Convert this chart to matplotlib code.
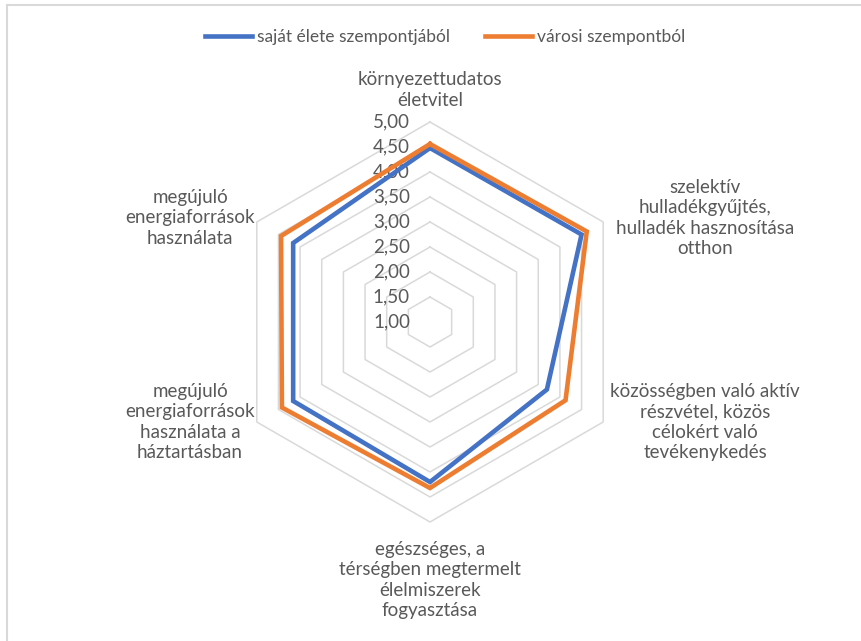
import numpy as np
import matplotlib
matplotlib.use("Agg")
import matplotlib.pyplot as plt
from matplotlib.lines import Line2D

plt.rcParams['font.family'] = ['Lato', 'DejaVu Sans']

categories = [
    "környezettudatos\néletvitel",
    "szelektív\nhulladékgyűjtés,\nhulladék hasznosítása\notthon",
    "közösségben való aktív\nrészvétel, közös\ncélokért való\ntevékenykedés",
    "egészséges, a\ntérségben megtermelt\nélelmiszerek\nfogyasztása",
    "megújuló\nenergiaforrások\nhasználata a\nháztartásban",
    "megújuló\nenergiaforrások\nhasználata",
]
series_names = ["saját élete szempontjából", "városi szempontból"]
own_values = [4.48, 4.50, 3.70, 4.20, 4.16, 4.16]
city_values = [4.56, 4.62, 4.13, 4.32, 4.42, 4.44]
ring_values = [1.5, 2.0, 2.5, 3.0, 3.5, 4.0, 4.5, 5.0]
tick_labels = ["1,00", "1,50", "2,00", "2,50", "3,00", "3,50", "4,00", "4,50", "5,00"]
r_min = 1.0

colors = ["#4472C4", "#ED7D31"]
grid_color = "#D9D9D9"
text_color = "#595959"
fs = 13.5
fs_leg = 12.5

W, H = 861, 641
fig = plt.figure(figsize=(W / 100, H / 100), dpi=100)
cx, cy, half = 430, 322, 250
ax = fig.add_axes([(cx - half) / W, (H - cy - half) / H, 2 * half / W, 2 * half / H])
ax.set_xlim(-5, 5)
ax.set_ylim(-5, 5)
ax.set_aspect('equal')
ax.axis('off')

n = len(categories)
theta = np.arange(n) * 2 * np.pi / n


def xy(vals):
    r = np.asarray(vals) - r_min
    x = r * np.sin(theta)
    y = r * np.cos(theta)
    return np.append(x, x[0]), np.append(y, y[0])


for rv in ring_values:
    gx, gy = xy([rv] * n)
    ax.plot(gx, gy, color=grid_color, lw=1.1, zorder=1)

for vals, c in zip([own_values, city_values], colors):
    px, py = xy(vals)
    ax.plot(px, py, color=c, lw=3.3, zorder=3, solid_joinstyle='miter')

# radial tick labels
tick_vals = [r_min] + ring_values
for tv, tl in zip(tick_vals, tick_labels):
    ax.text(-0.4, tv - r_min, tl, ha='right', va='center', fontsize=fs,
            color=text_color, zorder=2)

# category labels
label_pos = [(0, 4.64), (5.5, 2.08), (5.5, -2.0), (0, -5.16), (-4.8, -2.0), (-4.8, 2.08)]
for (lx, ly), lab in zip(label_pos, categories):
    ax.text(lx, ly, lab, ha='center', va='center', fontsize=fs, color=text_color,
            linespacing=1.25, clip_on=False)

handles = [Line2D([], [], color=c, lw=3.3) for c in colors]
fig.legend(handles, series_names, loc='center', bbox_to_anchor=(445 / W, 1 - 37 / H),
           ncol=2, frameon=False, fontsize=fs_leg, handlelength=2.7, handletextpad=0.3,
           columnspacing=2.0, labelcolor=text_color)

# chart border (top and left visible)
fig.add_artist(Line2D([7 / W, 7 / W], [0, 1 - 5 / H], color=grid_color, lw=1.5,
                      transform=fig.transFigure))
fig.add_artist(Line2D([7 / W, 1], [1 - 5 / H, 1 - 5 / H], color=grid_color, lw=1.5,
                      transform=fig.transFigure))

fig.savefig("out.png", dpi=100, facecolor='white')
